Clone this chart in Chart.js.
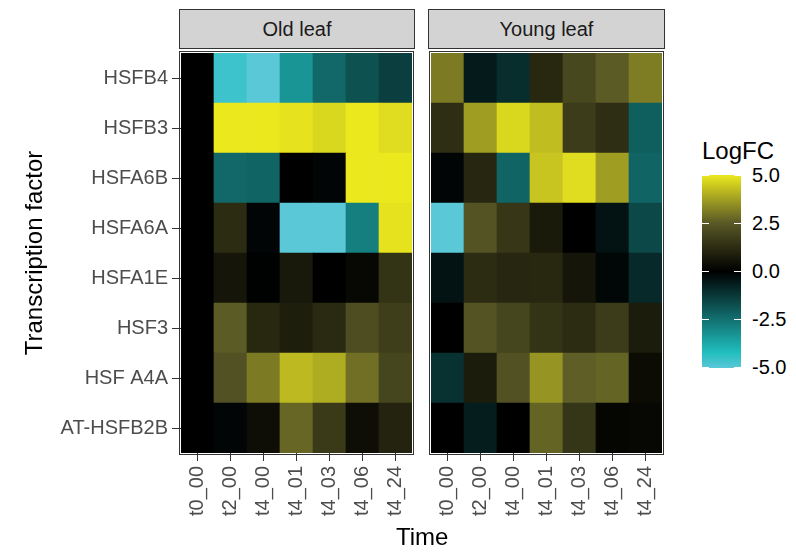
<!DOCTYPE html>
<html lang="en">
<head>
    <meta charset="UTF-8">
    <title>HSF heatmap</title>
    <script src="https://cdn.jsdelivr.net/npm/chart.js"></script>
    <style>
        body { margin: 0; background: white; font-family: "Liberation Sans", Arial, sans-serif; }
        #wrap { position: relative; width: 796px; height: 552px; overflow: hidden; }
        canvas { position: absolute; top: 0; }
        .strip { position: absolute; top: 9px; height: 40px; box-sizing: border-box; border: 1px solid #333;
                 background: #d3d3d3; color: #1a1a1a; font-size: 20px; text-align: center; line-height: 38px; }
        .title { position: absolute; color: #000; font-size: 24px; white-space: nowrap; }
        .lab { position: absolute; left: 752px; font-size: 20px; color: #000; line-height: 20px; }
        .tk { position: absolute; height: 1px; width: 7px; background: white; }
    </style>
</head>
<body>
<div id="wrap">
    <canvas id="oldLeaf" width="420" height="552" style="left:0"></canvas>
    <canvas id="youngLeaf" width="260" height="552" style="left:420px"></canvas>
    <div class="strip" style="left:179px; width:236px">Old leaf</div>
    <div class="strip" style="left:428px; width:237px">Young leaf</div>
    <div class="title" style="left:396px; top:523px">Time</div>
    <div class="title" style="left:702px; top:137px">LogFC</div>
    <div id="legendBar" style="position:absolute; left:702px; top:175px; width:39px; height:193px"></div>
</div>

<script>
    // data
    const times = ['t0_00', 't2_00', 't4_00', 't4_01', 't4_03', 't4_06', 't4_24'];
    const genes = ['HSFB4', 'HSFB3', 'HSFA6B', 'HSFA6A', 'HSFA1E', 'HSF3', 'HSF A4A', 'AT-HSFB2B'];
    // rows follow genes (top to bottom), columns follow times
    const oldLeafFC = [
        [0, -4.6, -5, -3.3, -2.3, -1.8, -1.4],
        [0, 5, 5, 4.9, 4.7, 5, 4.8],
        [0, -2.3, -2.2, 0, -0.1, 5, 5],
        [0, 1.25, -0.1, -5, -5, -2.8, 4.9],
        [0, 0.6, -0.05, 0.7, 0, 0.2, 1.45],
        [0, 2.55, 1.15, 0.85, 1.2, 2.2, 1.75],
        [0, 2.3, 3.1, 4.2, 3.95, 2.9, 2.0],
        [0, -0.1, 0.4, 2.75, 1.65, 0.4, 1.0]
    ];
    const youngLeafFC = [
        [3.1, -0.6, -1.0, 1.15, 2.05, 2.55, 3.15],
        [1.3, 3.7, 4.7, 4.25, 1.7, 1.3, -2.1],
        [-0.1, 1.1, -2.2, 4.4, 4.8, 3.7, -2.2],
        [-5, 2.35, 1.55, 0.75, 0, -0.4, -1.6],
        [-0.4, 1.25, 1.1, 1.15, 0.6, -0.15, -0.9],
        [0, 2.35, 2.0, 1.45, 1.25, 1.7, 0.8],
        [-1.1, 0.8, 2.3, 3.55, 2.6, 2.7, 0.35],
        [0, -0.65, 0, 2.7, 1.5, 0.15, 0.2]
    ];
    const legendTicks = [5, 2.5, 0, -2.5, -5];

    // colour scale
    const stops = [[-5, [91, 200, 216]], [-4.2, [32, 190, 190]], [0, [0, 0, 0]], [2.5, [88, 88, 38]], [5, [236, 232, 30]]];
    function colorFor(v) {
        v = Math.max(-5, Math.min(5, v));
        for (let i = 0; i < stops.length - 1; i++) {
            const [a, ca] = stops[i], [b, cb] = stops[i + 1];
            if (v <= b) {
                const t = (v - a) / (b - a);
                const c = ca.map((x, k) => Math.round(x + (cb[k] - x) * t));
                return 'rgb(' + c.join(',') + ')';
            }
        }
        return 'rgb(' + stops[stops.length - 1][1].join(',') + ')';
    }

    Chart.defaults.font.family = '"Liberation Sans", Arial, sans-serif';

    const panelBorder = {
        id: 'panelBorder',
        afterDraw(chart) {
            const a = chart.chartArea, ctx = chart.ctx;
            ctx.save();
            ctx.strokeStyle = '#333';
            ctx.lineWidth = 1;
            ctx.strokeRect(a.left - 1.5, a.top - 1.5, a.right - a.left + 3, a.bottom - a.top + 3);
            ctx.restore();
        }
    };

    function makeChart(id, values, showY, padding) {
        const datasets = [];
        for (let i = genes.length - 1; i >= 0; i--) {
            datasets.push({
                label: genes[i],
                data: times.map(() => 1),
                backgroundColor: values[i].map(colorFor),
                borderWidth: 0,
                categoryPercentage: 1,
                barPercentage: 1
            });
        }
        return new Chart(document.getElementById(id), {
            type: 'bar',
            data: { labels: times, datasets: datasets },
            options: {
                responsive: false,
                animation: false,
                layout: { padding: padding },
                plugins: { legend: { display: false }, tooltip: { enabled: false } },
                scales: {
                    x: {
                        stacked: true,
                        grid: { drawOnChartArea: false, offset: false, tickLength: 8, color: '#333' },
                        border: { display: false },
                        ticks: { color: '#4d4d4d', font: { size: 20 }, minRotation: 90, maxRotation: 90, padding: 5, autoSkip: false },
                        afterFit(scale) {
                            scale.height = 99;
                            scale.paddingLeft = 0;
                            scale.paddingRight = 0;
                        }
                    },
                    y: {
                        display: showY,
                        stacked: true,
                        min: 0, max: 8,
                        afterBuildTicks(scale) {
                            scale.ticks = genes.map((g, i) => ({ value: i + 0.5 }));
                        },
                        grid: { drawOnChartArea: false, tickLength: 9, color: '#333' },
                        border: { display: false },
                        ticks: {
                            color: '#4d4d4d', font: { size: 20 }, padding: 4,
                            callback: (v) => genes[genes.length - 1 - Math.floor(v)]
                        },
                        title: { display: true, text: 'Transcription factor', color: '#000', font: { size: 24 }, padding: { top: 21, bottom: 0 } },
                        afterFit(scale) {
                            scale.width = showY ? 181 : 0;
                            scale.paddingTop = 0;
                            scale.paddingBottom = 0;
                        }
                    }
                }
            },
            plugins: [panelBorder]
        });
    }

    makeChart('oldLeaf', oldLeafFC, true, { top: 53, left: 0, right: 8, bottom: 0 });
    makeChart('youngLeaf', youngLeafFC, false, { top: 53, left: 11, right: 18, bottom: 0 });

    // legend colour bar
    const bar = document.getElementById('legendBar');
    bar.style.background = 'linear-gradient(to top, ' +
        stops.map(s => colorFor(s[0]) + ' ' + ((s[0] + 5) * 10) + '%').join(', ') + ')';
    const wrap = document.getElementById('wrap');
    legendTicks.forEach(v => {
        const y = 175 + (5 - v) / 10 * 192;
        const lab = document.createElement('div');
        lab.className = 'lab';
        lab.style.top = (y - 10) + 'px';
        lab.textContent = v.toFixed(1);
        wrap.appendChild(lab);
        [702, 734].forEach(x => {
            const t = document.createElement('div');
            t.className = 'tk';
            t.style.left = x + 'px';
            t.style.top = Math.round(y) + 'px';
            wrap.appendChild(t);
        });
    });
</script>
</body>
</html>
